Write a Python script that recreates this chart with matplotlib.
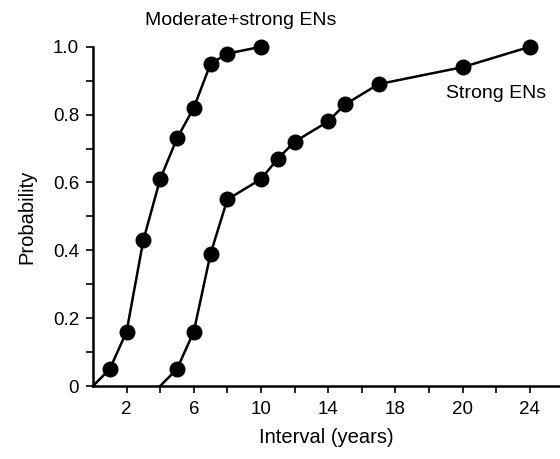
import matplotlib
matplotlib.use("Agg")
import matplotlib.pyplot as plt
from matplotlib.ticker import MultipleLocator, FixedLocator

# axis positions are evenly spaced; the source figure labels them 2..18, 20, 24
tick_pos    = [2, 6, 10, 14, 18, 22, 26]
tick_labels = ["2", "6", "10", "14", "18", "20", "24"]

mod_x = [0, 1, 2, 3, 4, 5, 6, 7, 8, 10]
mod_y = [0, 0.05, 0.16, 0.43, 0.61, 0.73, 0.82, 0.95, 0.98, 1.0]

strong_x = [4, 5, 6, 7, 8, 10, 11, 12, 14, 15, 17, 22, 26]
strong_y = [0, 0.05, 0.16, 0.39, 0.55, 0.61, 0.67, 0.72, 0.78, 0.83, 0.89, 0.94, 1.0]

plt.rcParams["font.family"] = ["Liberation Sans", "DejaVu Sans"]

fig = plt.figure(figsize=(5.6, 4.59), dpi=100)
ax = fig.add_axes([0.166, 0.159, 0.834, 0.739])

for xs, ys in [(mod_x, mod_y), (strong_x, strong_y)]:
    ax.plot(xs, ys, color="black", lw=1.8, clip_on=False)
    ax.plot(xs[1:], ys[1:], "o", color="black", ms=10.5, clip_on=False)

ax.set_xlim(0, 27.8)
ax.set_ylim(0, 1.0)

ax.xaxis.set_major_locator(FixedLocator(tick_pos))
ax.set_xticklabels(tick_labels)
ax.xaxis.set_minor_locator(FixedLocator([4, 8, 12, 16, 20, 24]))
ax.yaxis.set_minor_locator(MultipleLocator(0.1))
ax.set_yticks([0, 0.2, 0.4, 0.6, 0.8, 1.0])
ax.set_yticklabels(["0", "0.2", "0.4", "0.6", "0.8", "1.0"])

ax.tick_params(which="both", direction="out", length=5, width=1.2, labelsize=13.5)
ax.tick_params(axis="x", pad=6)
ax.tick_params(axis="y", pad=5)
for s in ["top", "right"]:
    ax.spines[s].set_visible(False)
for s in ["left", "bottom"]:
    ax.spines[s].set_linewidth(1.8)

ax.set_xlabel("Interval (years)", fontsize=14.5, labelpad=7)
ax.set_ylabel("Probability", fontsize=14.5, labelpad=12)

fig.text(0.43, 0.955, "Moderate+strong ENs", fontsize=14, ha="center", va="center")
fig.text(0.885, 0.797, "Strong ENs", fontsize=14, ha="center", va="center")

fig.savefig("out.png", dpi=100)
